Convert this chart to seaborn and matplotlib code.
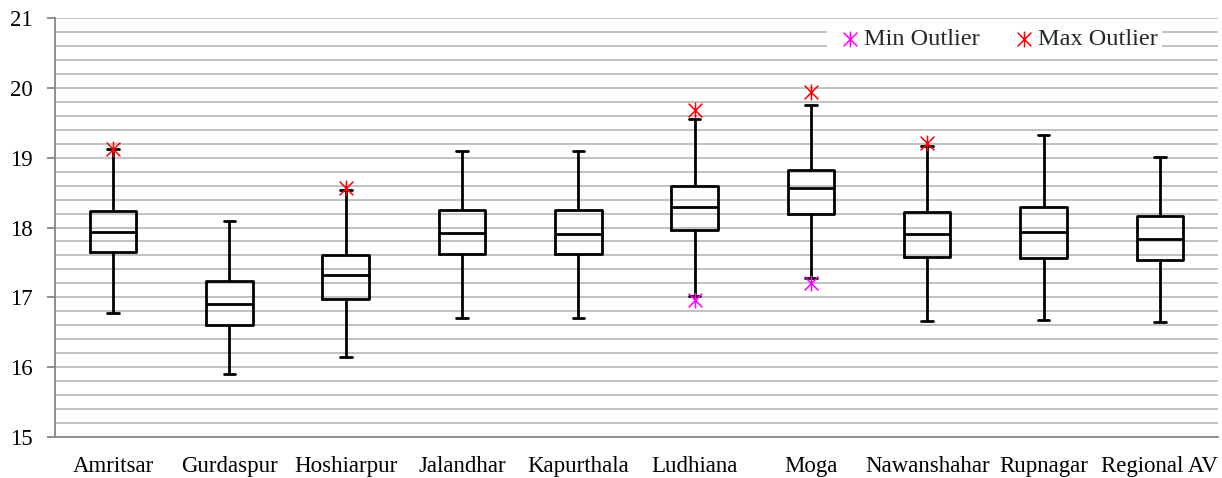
import numpy as np
import pandas as pd
import matplotlib
matplotlib.use("Agg")
import matplotlib.pyplot as plt
from matplotlib.path import Path
from matplotlib.ticker import MultipleLocator
import seaborn as sns

# ---- data (five-number summaries) ----
districts = ["Amritsar", "Gurdaspur", "Hoshiarpur", "Jalandhar", "Kapurthala",
             "Ludhiana", "Moga", "Nawanshahar", "Rupnagar", "Regional AV"]
lower_whisker = [16.78, 15.90, 16.15, 16.70, 16.70, 17.02, 17.27, 16.66, 16.68, 16.64]
q1            = [17.65, 16.60, 16.98, 17.62, 17.62, 17.96, 18.20, 17.58, 17.57, 17.54]
median        = [17.93, 16.90, 17.32, 17.92, 17.90, 18.29, 18.56, 17.90, 17.94, 17.84]
q3            = [18.23, 17.23, 17.60, 18.25, 18.25, 18.60, 18.83, 18.22, 18.30, 18.17]
upper_whisker = [19.12, 18.10, 18.54, 19.09, 19.09, 19.55, 19.76, 19.17, 19.33, 19.01]

min_outlier_district = ["Ludhiana", "Moga"]
min_outlier_value    = [16.96, 17.20]
max_outlier_district = ["Amritsar", "Hoshiarpur", "Ludhiana", "Moga", "Nawanshahar"]
max_outlier_value    = [19.13, 18.57, 19.68, 19.94, 19.21]

# long table whose quartiles equal the summaries (5 points each)
rows = []
for i, d in enumerate(districts):
    for v in (lower_whisker[i], q1[i], median[i], q3[i], upper_whisker[i]):
        rows.append({"district": d, "value": v})
df = pd.DataFrame(rows)

sns.set_theme(style="white")
plt.rcParams["font.family"] = ["Liberation Serif", "DejaVu Serif"]

fig = plt.figure(figsize=(12.22, 4.78), dpi=100)
ax = fig.add_axes([0.045, 0.0858, 0.9517, 0.8765])

sns.boxplot(data=df, x="district", y="value", order=districts, ax=ax,
            whis=np.inf, width=0.4, fill=False, color="black",
            linecolor="black", linewidth=2.0, capwidths=0.1, zorder=3)

star = Path([(-1, -1), (1, 1), (-1, 1), (1, -1), (0, -1.15), (0, 1.15)],
            [Path.MOVETO, Path.LINETO, Path.MOVETO, Path.LINETO,
             Path.MOVETO, Path.LINETO])

sns.scatterplot(x=[districts.index(d) for d in min_outlier_district],
                y=min_outlier_value, marker=star, s=130, color="#ff00ff",
                edgecolor="#ff00ff", linewidth=1.1, ax=ax, zorder=5,
                label="Min Outlier")
sns.scatterplot(x=[districts.index(d) for d in max_outlier_district],
                y=max_outlier_value, marker=star, s=130, color="#ff0000",
                edgecolor="#ff0000", linewidth=1.1, ax=ax, zorder=5,
                label="Max Outlier")

ax.set_xlim(-0.5, len(districts) - 0.5)
ax.set_ylim(15, 21)
ax.yaxis.set_major_locator(MultipleLocator(1))
ax.yaxis.set_minor_locator(MultipleLocator(0.2))
ax.grid(which="both", axis="y", color="#bdbdbd", linewidth=1.3, zorder=0)
ax.grid(axis="x", visible=False)
ax.set_axisbelow(True)
ax.set_xlabel("")
ax.set_ylabel("")
ax.set_xticks(range(len(districts)))
ax.set_xticklabels(districts)

for s in ("top", "right"):
    ax.spines[s].set_visible(False)
for s in ("left", "bottom"):
    ax.spines[s].set_color("#868686")
    ax.spines[s].set_linewidth(1.3)

ax.tick_params(axis="y", which="major", left=True, length=6, width=1.3,
               color="#868686", labelsize=16.5, pad=10, labelcolor="black")
ax.tick_params(axis="y", which="minor", left=False, length=0)
ax.tick_params(axis="x", bottom=False, length=0, labelsize=16.5, pad=14,
               labelcolor="black")

leg = ax.legend(ncol=2, loc="upper right", bbox_to_anchor=(0.952, 0.988),
                frameon=True, fontsize=17.5, borderaxespad=0, borderpad=0.2,
                handletextpad=-0.2, columnspacing=1.1, handlelength=1.5,
                markerscale=1.0)
leg.get_frame().set_facecolor("white")
leg.get_frame().set_edgecolor("none")
leg.get_frame().set_alpha(1.0)
leg.set_zorder(6)

fig.savefig("out.png", dpi=100)
